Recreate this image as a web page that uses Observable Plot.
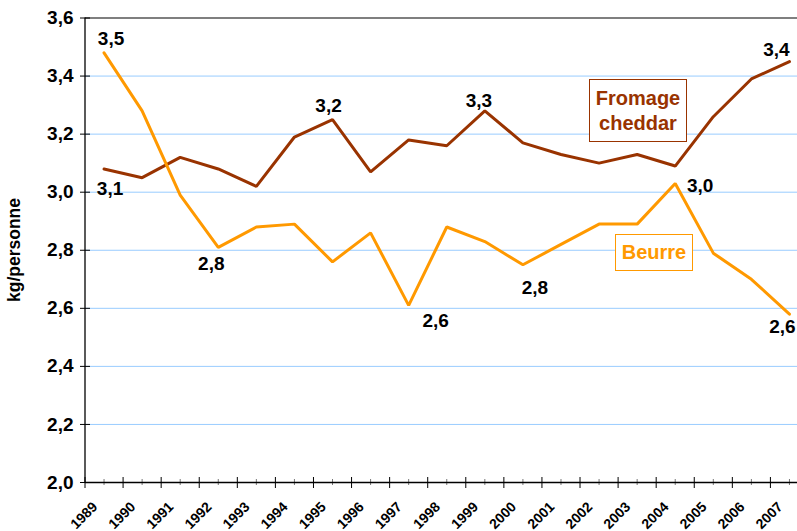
<!DOCTYPE html>
<html>
<head>
<meta charset="utf-8">
<script src="https://cdn.jsdelivr.net/npm/d3@7"></script>
<script src="https://cdn.jsdelivr.net/npm/@observablehq/plot@0.6"></script>
<style>
  html, body { margin: 0; padding: 0; background: #fff; }
  #wrap { position: relative; width: 797px; height: 531px; font-family: "Liberation Sans", Arial, sans-serif; }
  .leg { position: absolute; box-sizing: border-box; font-weight: bold; text-align: center; background: #fff; }
</style>
</head>
<body>
<div id="wrap"></div>
<script>
// ---- data ----
const years = [1989, 1990, 1991, 1992, 1993, 1994, 1995, 1996, 1997, 1998, 1999, 2000, 2001, 2002, 2003, 2004, 2005, 2006, 2007];
const cheddar = [3.08, 3.05, 3.12, 3.08, 3.02, 3.19, 3.25, 3.07, 3.18, 3.16, 3.28, 3.17, 3.13, 3.10, 3.13, 3.09, 3.26, 3.39, 3.45];
const beurre  = [3.48, 3.28, 2.99, 2.81, 2.88, 2.89, 2.76, 2.86, 2.61, 2.88, 2.83, 2.75, 2.82, 2.89, 2.89, 3.03, 2.79, 2.70, 2.58];
const seriesNames = ["Fromage cheddar", "Beurre"];
const yTicks = [2.0, 2.2, 2.4, 2.6, 2.8, 3.0, 3.2, 3.4, 3.6];
const yTitle = "kg/personne";

// value labels
const labelSeries = ["Beurre", "Fromage cheddar", "Beurre", "Fromage cheddar", "Beurre", "Fromage cheddar", "Beurre", "Beurre", "Fromage cheddar", "Beurre"];
const labelYears  = [1989, 1989, 1992, 1995, 1997, 1999, 2000, 2004, 2007, 2007];
const labelTexts  = ["3,5", "3,1", "2,8", "3,2", "2,6", "3,3", "2,8", "3,0", "3,4", "2,6"];

// ---- layout (offsets of value labels, px) ----
const labelOffsets = [[7, -14], [6, 20], [-7, 17], [-4, -14], [27, 15], [-6, -10], [12, 23], [25, 2], [-13, -12], [-7, 13]];

const colors = {"Fromage cheddar": "#993300", "Beurre": "#FF9900"};

const rows = [];
years.forEach((yr, i) => {
  rows.push({series: "Fromage cheddar", year: yr, value: cheddar[i]});
  rows.push({series: "Beurre", year: yr, value: beurre[i]});
});
const valueOf = (s, yr) => (s === "Beurre" ? beurre : cheddar)[years.indexOf(yr)];
const labels = labelTexts.map((t, i) => ({series: labelSeries[i], year: labelYears[i], text: t, value: valueOf(labelSeries[i], labelYears[i]), off: labelOffsets[i]}));

const boundaries = years.map(y => y - 0.5).concat([years[years.length - 1] + 0.5]);
const xMin = boundaries[0], xMax = boundaries[boundaries.length - 1];
const fmt = d => d.toFixed(1).replace(".", ",");
const font = "Liberation Sans, Arial, sans-serif";

const labelMarks = labels.map(l => Plot.text([l], {
  x: "year", y: "value", text: "text", dx: l.off[0], dy: l.off[1],
  fontSize: 19, fontWeight: "bold", fill: "#000", textAnchor: "middle"
}));

const chart = Plot.plot({
  width: 797,
  height: 531,
  marginLeft: 85,
  marginTop: 17,
  marginBottom: 49,
  marginRight: 0,
  style: {fontFamily: font, background: "#fff", overflow: "hidden"},
  x: {type: "linear", domain: [xMin, xMax], range: [84.5, 808]},
  y: {domain: [2.0, 3.6], range: [482, 17.5]},
  color: {domain: seriesNames, range: seriesNames.map(s => colors[s])},
  marks: [
    Plot.gridY(yTicks.slice(1, -1), {stroke: "#99ccff", strokeOpacity: 1, strokeWidth: 1}),
    Plot.ruleY([yTicks[yTicks.length - 1]], {stroke: "#555", strokeWidth: 1.3}),
    // y ticks (crossing) and labels
    Plot.axisY({ticks: yTicks, tickSize: 10, dx: 5, tickFormat: () => "", label: null, stroke: "#000"}),
    Plot.axisY({ticks: yTicks, tickSize: 0, tickPadding: 12, tickFormat: fmt, label: null, fontSize: 19, fontWeight: "bold", fill: "#000"}),
    // x ticks: major at boundaries, minor at centers
    Plot.axisX({ticks: boundaries, tickSize: 11, dy: -5, tickFormat: () => "", label: null, stroke: "#000"}),
    Plot.axisX({ticks: years, tickSize: 6, dy: -3, tickFormat: () => "", label: null, stroke: "#777"}),
    Plot.axisX({ticks: years, tickSize: 0, tickPadding: 22, tickRotate: -45, dx: -9, tickFormat: d => String(d), label: null, fontSize: 14, fontWeight: "bold", fill: "#000"}),
    Plot.ruleY([yTicks[0]], {stroke: "#000", strokeWidth: 1.3}),
    Plot.ruleX([xMin], {y1: yTicks[0], y2: yTicks[yTicks.length - 1], stroke: "#000", strokeWidth: 1.3}),
    Plot.text([yTitle], {frameAnchor: "left", textAnchor: "middle", dx: -71, rotate: -90, fontSize: 17.5, fontWeight: "bold", fill: "#000"}),
    Plot.line(rows, {x: "year", y: "value", z: "series", stroke: "series", strokeWidth: 3, strokeLinejoin: "miter"}),
    ...labelMarks
  ]
});

const wrap = document.getElementById("wrap");
wrap.appendChild(chart);

// legend boxes
const leg1 = document.createElement("div");
leg1.className = "leg";
Object.assign(leg1.style, {left: "589px", top: "79px", width: "98px", height: "63px", border: "1px solid " + colors["Fromage cheddar"], color: colors["Fromage cheddar"], fontSize: "20px", lineHeight: "25px", paddingTop: "6px"});
leg1.innerHTML = "Fromage<br>cheddar";
wrap.appendChild(leg1);

const leg2 = document.createElement("div");
leg2.className = "leg";
Object.assign(leg2.style, {left: "615px", top: "234px", width: "78px", height: "37px", border: "1px solid " + colors["Beurre"], color: colors["Beurre"], fontSize: "20px", lineHeight: "35px"});
leg2.textContent = "Beurre";
wrap.appendChild(leg2);
</script>
</body>
</html>
